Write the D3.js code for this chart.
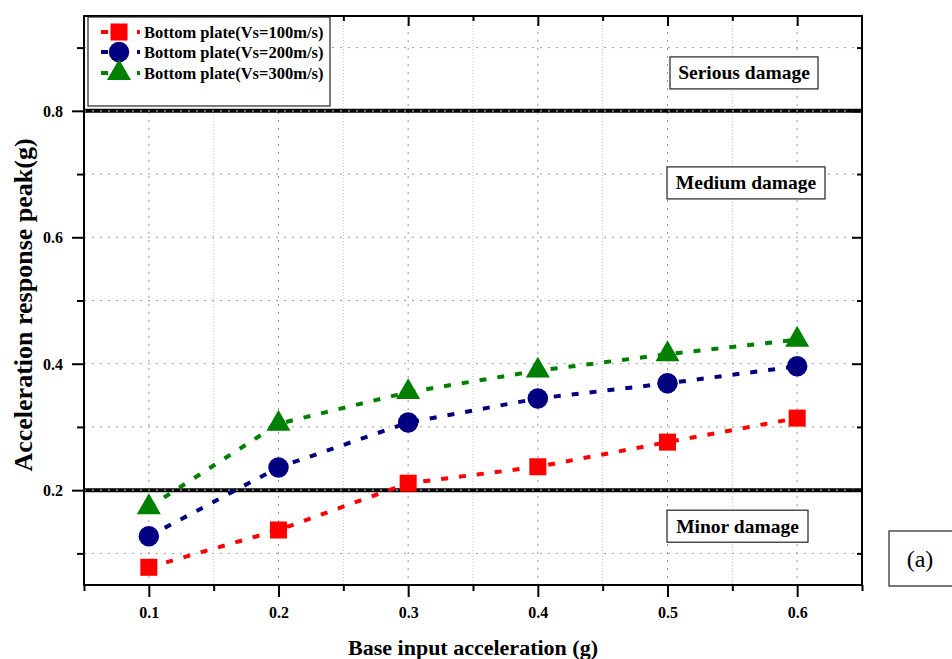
<!DOCTYPE html>
<html>
<head>
<meta charset="utf-8">
<script src="https://cdn.jsdelivr.net/npm/d3@7"></script>
<style>
  html, body { margin: 0; padding: 0; background: #fff; }
  svg { display: block; }
  text { font-family: "Liberation Serif", "Times New Roman", serif; }
</style>
</head>
<body>
<svg id="chart" width="952" height="659"></svg>
<script>
// Base input acceleration (g)
const inputs = [0.1, 0.2, 0.3, 0.4, 0.5, 0.6];
// Peak acceleration response at the bottom plate (g), one list per shear-wave velocity
const vs100 = [0.078, 0.137, 0.211, 0.237, 0.276, 0.314];
const vs200 = [0.127, 0.236, 0.307, 0.345, 0.369, 0.396];
const vs300 = [0.173, 0.305, 0.355, 0.389, 0.415, 0.438];
const seriesNames = ["Bottom plate(Vs=100m/s)", "Bottom plate(Vs=200m/s)", "Bottom plate(Vs=300m/s)"];
const seriesColors = ["#ff0000", "#000080", "#008000"];
const seriesSymbols = ["square", "circle", "triangle"];

// Damage level thresholds and zone labels
const thresholds = [0.2, 0.8];
const zoneLabels = ["Serious damage", "Medium damage", "Minor damage"];
const zoneLabelY = [0.86, 0.686, 0.143];

// Axis ticks
const xMajorTicks = [0.1, 0.2, 0.3, 0.4, 0.5, 0.6];
const xMinorTicks = [0.05, 0.15, 0.25, 0.35, 0.45, 0.55, 0.65];
const yMajorTicks = [0.2, 0.4, 0.6, 0.8];
const yMinorTicks = [0.1, 0.3, 0.5, 0.7, 0.9];

const svg = d3.select("#chart");
const L = 84, R = 862, T = 16, B = 585;

const x = d3.scaleLinear().domain([0.05, 0.65]).range([L, R]);
const y = d3.scaleLinear().domain([0.05, 0.95]).range([B, T]);

// ---- grid ----
const grid = svg.append("g");
grid.selectAll("line.hmaj").data(yMajorTicks.concat(yMinorTicks)).join("line")
  .attr("x1", L).attr("x2", R).attr("y1", d => y(d)).attr("y2", d => y(d))
  .attr("stroke", "#9a9a9a").attr("stroke-width", 1).attr("stroke-dasharray", "2,6");
grid.selectAll("line.vmaj").data(xMajorTicks).join("line")
  .attr("y1", T).attr("y2", B).attr("x1", d => x(d)).attr("x2", d => x(d))
  .attr("stroke", "#9a9a9a").attr("stroke-width", 1).attr("stroke-dasharray", "2,6");
grid.selectAll("line.vmin").data(xMinorTicks.slice(1, -1)).join("line")
  .attr("class", "vmin")
  .attr("y1", T).attr("y2", B).attr("x1", d => x(d)).attr("x2", d => x(d))
  .attr("stroke", "#c4c4c4").attr("stroke-width", 1).attr("stroke-dasharray", "1,2");

// ---- threshold lines ----
const th = svg.append("g");
th.selectAll("line.th").data(thresholds).join("line")
  .attr("x1", L).attr("x2", R).attr("y1", d => y(d)).attr("y2", d => y(d))
  .attr("stroke", "#000").attr("stroke-width", 4);
th.selectAll("line.thd").data(thresholds).join("line")
  .attr("class", "thd")
  .attr("x1", L).attr("x2", R).attr("y1", d => y(d)).attr("y2", d => y(d))
  .attr("stroke", "#b0b0b0").attr("stroke-width", 1.2).attr("stroke-dasharray", "2,6");

// ---- zone labels ----
const zoneBoxes = [
  { w: 148, dx: 3 }, { w: 158, dx: 0 }, { w: 141, dx: 0 }
];
const zoneX = 667;
zoneLabels.forEach((lab, i) => {
  const g = svg.append("g");
  const cy = y(zoneLabelY[i]);
  const bx = zoneX + zoneBoxes[i].dx;
  g.append("rect").attr("x", bx).attr("y", cy - 16)
    .attr("width", zoneBoxes[i].w).attr("height", 32)
    .attr("fill", "#fff").attr("stroke", "#222").attr("stroke-width", 1.2);
  g.append("text").attr("x", bx + zoneBoxes[i].w / 2).attr("y", cy + 6.5)
    .attr("text-anchor", "middle").attr("font-weight", "bold").attr("font-size", 19.5)
    .text(lab);
});

// ---- series ----
const seriesData = [vs100, vs200, vs300];
const symbolTypes = { square: d3.symbolSquare, circle: d3.symbolCircle, triangle: d3.symbolTriangle };
const symbolSizes = { square: 290, circle: 330, triangle: 250 };

const line = d3.line().x((d, i) => x(inputs[i])).y(d => y(d));
seriesData.forEach((vals, s) => {
  svg.append("path").datum(vals)
    .attr("d", line).attr("fill", "none")
    .attr("stroke", seriesColors[s]).attr("stroke-width", 4)
    .attr("stroke-dasharray", "7,11");
});
seriesData.forEach((vals, s) => {
  const sym = d3.symbol().type(symbolTypes[seriesSymbols[s]]).size(symbolSizes[seriesSymbols[s]]);
  svg.append("g").selectAll("path").data(vals).join("path")
    .attr("transform", (d, i) => `translate(${x(inputs[i])},${y(d)})`)
    .attr("d", sym).attr("fill", seriesColors[s]);
});

// ---- frame & ticks ----
const frame = svg.append("g");
frame.append("rect").attr("x", L).attr("y", T).attr("width", R - L).attr("height", B - T)
  .attr("fill", "none").attr("stroke", "#000").attr("stroke-width", 2);

// bottom axis (outward ticks)
const xAxisMaj = d3.axisBottom(x).tickValues(xMajorTicks).tickSize(12).tickFormat(d3.format(".1f"));
const xAxisMin = d3.axisBottom(x).tickValues(xMinorTicks).tickSize(6).tickFormat("");
const gxMin = frame.append("g").attr("transform", `translate(0,${B})`).call(xAxisMin);
const gx = frame.append("g").attr("transform", `translate(0,${B})`).call(xAxisMaj);
[gx, gxMin].forEach(g => {
  g.select(".domain").remove();
  g.selectAll(".tick line").attr("stroke", "#000").attr("stroke-width", 2);
});
gx.selectAll(".tick text").attr("dy", 0).attr("y", 33)
  .attr("font-weight", "bold").attr("font-size", 16).attr("fill", "#000");

// left axis (outward ticks)
const yAxisMaj = d3.axisLeft(y).tickValues(yMajorTicks).tickSize(12).tickFormat(d3.format(".1f"));
const yAxisMin = d3.axisLeft(y).tickValues(yMinorTicks).tickSize(7).tickFormat("");
const gyMin = frame.append("g").attr("transform", `translate(${L},0)`).call(yAxisMin);
const gy = frame.append("g").attr("transform", `translate(${L},0)`).call(yAxisMaj);
[gy, gyMin].forEach(g => {
  g.select(".domain").remove();
  g.selectAll(".tick line").attr("stroke", "#000").attr("stroke-width", 2);
});
gy.selectAll(".tick text").attr("x", -21).attr("dy", "0.35em")
  .attr("font-weight", "bold").attr("font-size", 16).attr("fill", "#000");

// top axis (inward ticks)
const gtMaj = frame.append("g").attr("transform", `translate(0,${T})`)
  .call(d3.axisTop(x).tickValues(xMajorTicks).tickSize(-10).tickFormat(""));
const gtMin = frame.append("g").attr("transform", `translate(0,${T})`)
  .call(d3.axisTop(x).tickValues(xMinorTicks.slice(1, -1)).tickSize(-5).tickFormat(""));
// right axis (inward ticks)
const grMaj = frame.append("g").attr("transform", `translate(${R},0)`)
  .call(d3.axisRight(y).tickValues(yMajorTicks).tickSize(-10).tickFormat(""));
const grMin = frame.append("g").attr("transform", `translate(${R},0)`)
  .call(d3.axisRight(y).tickValues(yMinorTicks).tickSize(-5).tickFormat(""));
[gtMaj, gtMin, grMaj, grMin].forEach(g => {
  g.select(".domain").remove();
  g.selectAll(".tick line").attr("stroke", "#000").attr("stroke-width", 2);
});

// axis titles
svg.append("text").attr("x", 473).attr("y", 655)
  .attr("text-anchor", "middle").attr("font-weight", "bold").attr("font-size", 22)
  .text("Base input acceleration (g)");
svg.append("text").attr("transform", "translate(32,305) rotate(-90)")
  .attr("text-anchor", "middle").attr("font-weight", "bold").attr("font-size", 26)
  .text("Acceleration response peak(g)");

// ---- legend ----
const lg = svg.append("g");
lg.append("rect").attr("x", 88).attr("y", 17).attr("width", 242).attr("height", 89)
  .attr("fill", "#fff").attr("stroke", "#222").attr("stroke-width", 1.2);
const legendRowY = [32, 52, 73];
seriesNames.forEach((name, s) => {
  const cy = legendRowY[s];
  lg.append("line").attr("x1", 101).attr("x2", 140).attr("y1", cy).attr("y2", cy)
    .attr("stroke", seriesColors[s]).attr("stroke-width", 4).attr("stroke-dasharray", "7,11");
  const sym = d3.symbol().type(symbolTypes[seriesSymbols[s]]).size(symbolSizes[seriesSymbols[s]]);
  lg.append("path").attr("transform", `translate(119,${cy})`).attr("d", sym).attr("fill", seriesColors[s]);
  lg.append("text").attr("x", 144).attr("y", cy + 5.5)
    .attr("font-weight", "bold").attr("font-size", 16.5).text(name);
});

// ---- panel tag ----
svg.append("rect").attr("x", 889).attr("y", 531).attr("width", 80).attr("height", 55)
  .attr("fill", "#fff").attr("stroke", "#222").attr("stroke-width", 1.2);
svg.append("text").attr("x", 920).attr("y", 567).attr("text-anchor", "middle")
  .attr("font-size", 24).text("(a)");
</script>
</body>
</html>
